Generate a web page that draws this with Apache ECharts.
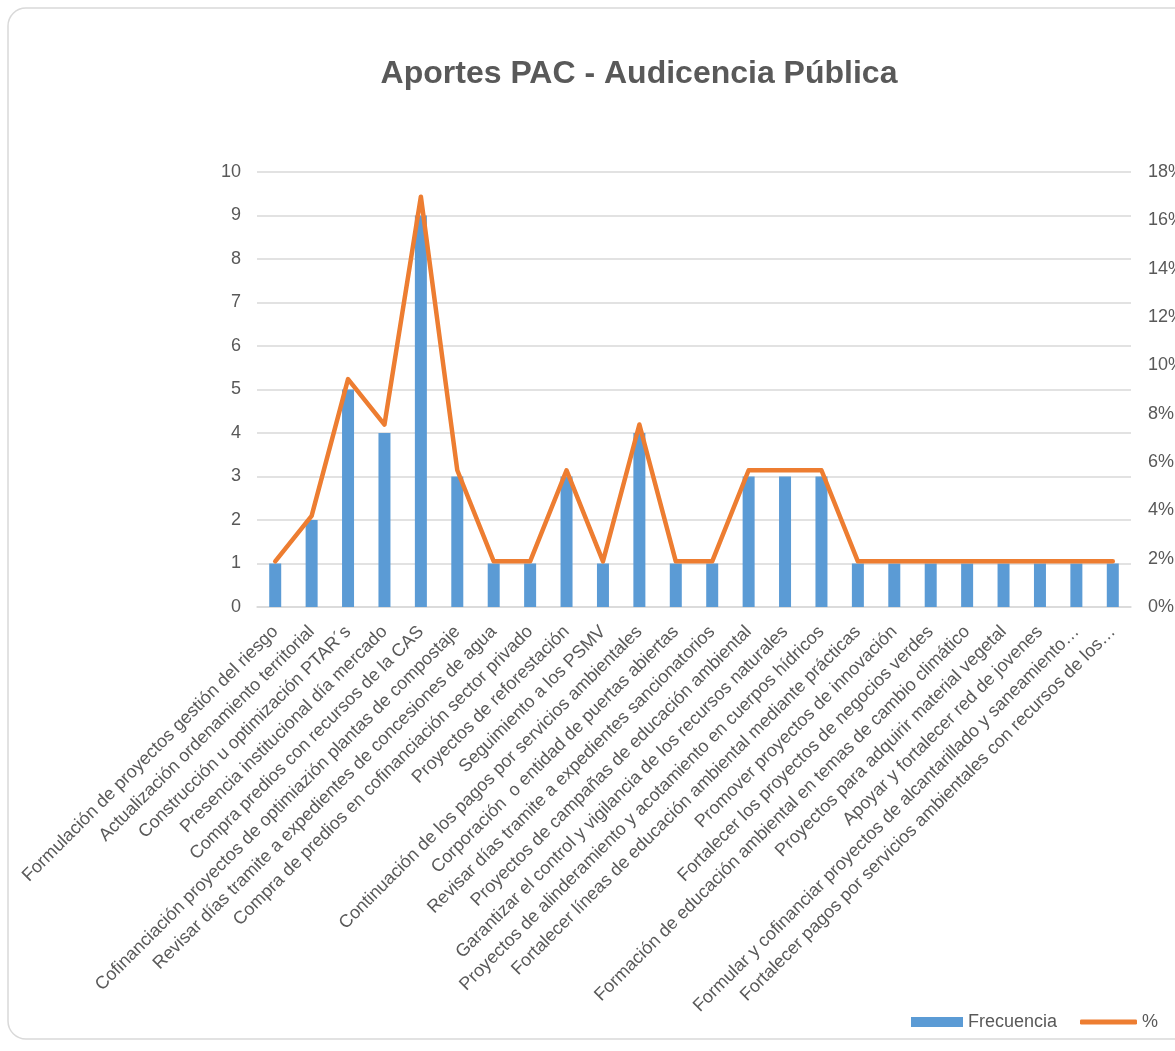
<!DOCTYPE html>
<html>
<head>
<meta charset="utf-8">
<script src="https://cdn.jsdelivr.net/npm/echarts@6/dist/echarts.min.js"></script>
<style>
  html, body { margin: 0; padding: 0; background: #ffffff; overflow: hidden; }
  #chart { width: 1175px; height: 1051px; }
</style>
</head>
<body>
<div id="chart"></div>
<script>
// Propuestas recogidas en la audiencia pública
const categories = [
  'Formulación de proyectos gestión del riesgo',
  'Actualización ordenamiento territorial',
  'Construcción u optimización PTAR´s',
  'Presencia institucional día mercado',
  'Compra predios con recursos de la CAS',
  'Cofinanciación proyectos de optimiazión plantas de compostaje',
  'Revisar días tramite a expedientes de concesiones de agua',
  'Compra de predios en cofinanciación sector privado',
  'Proyectos de reforestación',
  'Seguimiento a los PSMV',
  'Continuación de los pagos por servicios ambientales',
  'Corporación  o entidad de puertas abiertas',
  'Revisar días tramite a expedientes sancionatorios',
  'Proyectos de campañas de educación ambiental',
  'Garantizar el control y vigilancia de los recursos naturales',
  'Proyectos de alinderamiento y acotamiento en cuerpos hídricos',
  'Fortalecer líneas de educación ambiental mediante prácticas',
  'Promover proyectos de innovación',
  'Fortalecer los proyectos de negocios verdes',
  'Formación de educación ambiental en temas de cambio climático',
  'Proyectos para adquirir material vegetal',
  'Apoyar y fortalecer red de jovenes',
  'Formular y cofinanciar proyectos de alcantarillado y saneamiento…',
  'Fortalecer pagos por servicios ambientales con recursos de los…'
];

// Frecuencia de cada propuesta
const frecuencia = [1, 2, 5, 4, 9, 3, 1, 1, 3, 1, 4, 1, 1, 3, 3, 3, 1, 1, 1, 1, 1, 1, 1, 1];

// Porcentaje sobre el total de aportes (53)
const porcentaje = [1.89, 3.77, 9.43, 7.55, 16.98, 5.66, 1.89, 1.89, 5.66, 1.89, 7.55, 1.89,
                    1.89, 5.66, 5.66, 5.66, 1.89, 1.89, 1.89, 1.89, 1.89, 1.89, 1.89, 1.89];

// Escalas de los ejes
const ejeFrecuencia = { min: 0, max: 10, interval: 1 };
const ejePorcentaje = { min: 0, max: 18, interval: 2 };

const txt = '#595959';
const gridColor = '#d9d9d9';
const font = '"Liberation Sans", Arial, sans-serif';

const chart = echarts.init(document.getElementById('chart'), null, { renderer: 'canvas' });

chart.setOption({
  animation: false,
  backgroundColor: '#ffffff',
  textStyle: { fontFamily: font },
  graphic: [{
    type: 'rect',
    shape: { x: 8, y: 8, width: 1190, height: 1031, r: 18 },
    style: { fill: 'none', stroke: '#d9d9d9', lineWidth: 1.5 },
    z: -10
  }],
  title: {
    text: 'Aportes PAC - Audicencia Pública',
    left: 634,
    textAlign: 'center',
    top: 53,
    textStyle: { fontFamily: font, fontSize: 32, fontWeight: 'bold', color: txt }
  },
  legend: [{
    left: 911,
    top: 1013,
    padding: 0,
    itemWidth: 52,
    itemHeight: 10,
    textStyle: { fontFamily: font, fontSize: 18, color: txt },
    data: [{ name: 'Frecuencia', icon: 'rect' }]
  }, {
    left: 1080,
    top: 1013,
    padding: 0,
    itemWidth: 57,
    itemHeight: 5,
    textStyle: { fontFamily: font, fontSize: 18, color: txt },
    data: [{ name: '%', icon: 'roundRect', itemStyle: { color: '#ed7d31' } }]
  }],
  grid: { left: 257, right: 44, top: 172, bottom: 444, outerBoundsMode: 'none', containLabel: false },
  xAxis: {
    type: 'category',
    data: categories,
    axisLine: { lineStyle: { color: gridColor, width: 1.5 } },
    axisTick: { show: false },
    axisLabel: {
      interval: 0,
      rotate: 45,
      fontFamily: font,
      fontSize: 18,
      color: txt,
      margin: 22
    }
  },
  yAxis: [{
    type: 'value',
    min: ejeFrecuencia.min, max: ejeFrecuencia.max, interval: ejeFrecuencia.interval,
    axisLine: { show: false },
    axisTick: { show: false },
    splitLine: { lineStyle: { color: gridColor, width: 1.5 } },
    axisLabel: { fontFamily: font, fontSize: 18, color: txt, margin: 16 }
  }, {
    type: 'value',
    min: ejePorcentaje.min, max: ejePorcentaje.max, interval: ejePorcentaje.interval,
    axisLine: { show: false },
    axisTick: { show: false },
    splitLine: { show: false },
    axisLabel: { fontFamily: font, fontSize: 18, color: txt, margin: 17, formatter: '{value}%' }
  }],
  series: [{
    name: 'Frecuencia',
    type: 'bar',
    data: frecuencia,
    barWidth: 12,
    itemStyle: { color: '#5b9bd5' },
    yAxisIndex: 0
  }, {
    name: '%',
    type: 'line',
    data: porcentaje,
    yAxisIndex: 1,
    symbol: 'none',
    lineStyle: { color: '#ed7d31', width: 4.5, cap: 'round', join: 'round' },
    itemStyle: { color: '#ed7d31' }
  }]
});
</script>
</body>
</html>
